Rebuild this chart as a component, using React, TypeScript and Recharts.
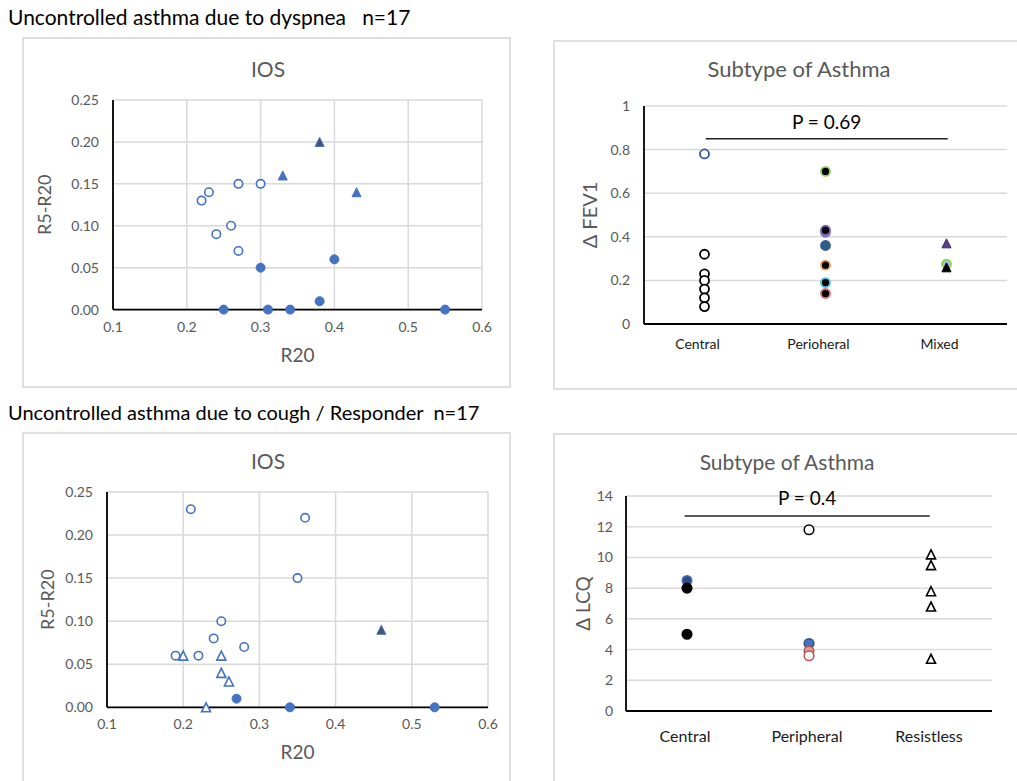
import React from "react";
import {
  ScatterChart,
  Scatter,
  XAxis,
  YAxis,
  CartesianGrid,
  ReferenceLine,
  Cell,
} from "recharts";

const FONT = "Lato, 'Open Sans', sans-serif";
const GRID = "#d9d9d9";
const AXIS_TEXT = "#595959";
const IOS_BLUE = "#4472C4";
const IOS_DARK = "#44546A";

type Pt = { x: number; y: number };

// ---- IOS scatter (shared axes) ----
const iosXTicks = [0.1, 0.2, 0.3, 0.4, 0.5, 0.6];
const iosYTicks = [0, 0.05, 0.1, 0.15, 0.2, 0.25];

// dyspnea group
const dyspneaOpenCircles: Pt[] = [
  { x: 0.22, y: 0.13 },
  { x: 0.23, y: 0.14 },
  { x: 0.27, y: 0.15 },
  { x: 0.3, y: 0.15 },
  { x: 0.26, y: 0.1 },
  { x: 0.24, y: 0.09 },
  { x: 0.27, y: 0.07 },
];
const dyspneaTriangles: Pt[] = [
  { x: 0.33, y: 0.16 },
  { x: 0.43, y: 0.14 },
];
const dyspneaDarkTriangles: Pt[] = [{ x: 0.38, y: 0.2 }];
const dyspneaFilledCircles: Pt[] = [
  { x: 0.3, y: 0.05 },
  { x: 0.4, y: 0.06 },
  { x: 0.38, y: 0.01 },
  { x: 0.25, y: 0 },
  { x: 0.31, y: 0 },
  { x: 0.34, y: 0 },
  { x: 0.55, y: 0 },
];

// cough / responder group
const coughOpenCircles: Pt[] = [
  { x: 0.21, y: 0.23 },
  { x: 0.36, y: 0.22 },
  { x: 0.35, y: 0.15 },
  { x: 0.25, y: 0.1 },
  { x: 0.24, y: 0.08 },
  { x: 0.28, y: 0.07 },
  { x: 0.19, y: 0.06 },
  { x: 0.22, y: 0.06 },
];
const coughOpenTriangles: Pt[] = [
  { x: 0.2, y: 0.06 },
  { x: 0.25, y: 0.06 },
  { x: 0.25, y: 0.04 },
  { x: 0.26, y: 0.03 },
  { x: 0.23, y: 0 },
];
const coughDarkTriangles: Pt[] = [{ x: 0.46, y: 0.09 }];
const coughFilledCircles: Pt[] = [
  { x: 0.27, y: 0.01 },
  { x: 0.34, y: 0 },
  { x: 0.53, y: 0 },
];

// ---- FEV1 by subtype ----
const fev1Categories = ["Central", "Perioheral", "Mixed"];
const fev1YTicks = [0, 0.2, 0.4, 0.6, 0.8, 1];
const fev1Central = [0.78, 0.32, 0.23, 0.2, 0.16, 0.12, 0.08];
const fev1Peripheral = [0.7, 0.42, 0.43, 0.36, 0.27, 0.19, 0.14];
const fev1MixedCircles = [0.275];
const fev1MixedTriangles = [0.37, 0.26];
const fev1PValue = "P = 0.69";
const fev1PLine = { from: 0.51, to: 2.51, y: 0.85 };

// ---- LCQ by subtype ----
const lcqCategories = ["Central", "Peripheral", "Resistless"];
const lcqYTicks = [0, 2, 4, 6, 8, 10, 12, 14];
const lcqCentral = [8.5, 8.0, 5.0];
const lcqPeripheral = [11.8, 4.4, 3.9, 3.6];
const lcqResistless = [10.2, 9.5, 7.8, 6.8, 3.4];
const lcqPValue = "P = 0.4";
const lcqPLine = { from: 0.48, to: 2.49, y: 12.7 };

// point styles
const fev1CentralStyle = [
  { fill: "#fff", stroke: "#2F5597" },
  ...fev1Central.slice(1).map(() => ({ fill: "#fff", stroke: "#000" })),
];
const fev1PeripheralStyle = [
  { fill: "#000", stroke: "#92D050" },
  { fill: "#8E7CC3", stroke: "#8E7CC3" },
  { fill: "#000", stroke: "#7A5FB0" },
  { fill: "#2E5C8A", stroke: "#2E5C8A" },
  { fill: "#000", stroke: "#F4A04E" },
  { fill: "#000", stroke: "#4BC3E0" },
  { fill: "#000", stroke: "#E06666" },
];
const fev1MixedTriangleStyle = [
  { fill: "#5B3F8F", stroke: "#3A2866" },
  { fill: "#000", stroke: "#000" },
];
const lcqCentralStyle = [
  { fill: "#2F4F80", stroke: "#4472C4" },
  { fill: "#000", stroke: "#000" },
  { fill: "#000", stroke: "#000" },
];
const lcqPeripheralStyle = [
  { fill: "#fff", stroke: "#000" },
  { fill: "#4472C4", stroke: "#2F4F80" },
  { fill: "#E39A98", stroke: "#C0504D" },
  { fill: "#fff", stroke: "#C0504D" },
];

const onCategory = (i: number, vals: number[]) => vals.map((v) => ({ x: i + 0.5, y: v }));

function circleShape(r: number, sw: number) {
  return (p: any) => {
    if (p.cx == null || p.cy == null) return <g />;
    return <circle cx={p.cx} cy={p.cy} r={r} fill={p.fill} stroke={p.stroke} strokeWidth={sw} />;
  };
}

function triangleShape(s: number, sw: number) {
  return (p: any) => {
    if (p.cx == null || p.cy == null) return <g />;
    const h = s / 2;
    const pts = `${p.cx},${p.cy - h} ${p.cx - h},${p.cy + h} ${p.cx + h},${p.cy + h}`;
    return <polygon points={pts} fill={p.fill} stroke={p.stroke} strokeWidth={sw} strokeLinejoin="miter" />;
  };
}

const tickStyle = { fontSize: 14, fill: AXIS_TEXT, fontFamily: FONT };
const axisTitleStyle = { fontSize: 18, fill: AXIS_TEXT, fontFamily: FONT, textAnchor: "middle" as const };

function Panel(props: {
  left: number;
  top: number;
  width: number;
  height: number;
  title: string;
  titleX: number;
  titleY: number;
  titleSize: number;
  children: React.ReactNode;
}) {
  return (
    <div
      style={{
        position: "absolute",
        left: props.left,
        top: props.top,
        width: props.width,
        height: props.height,
        border: "2px solid #dedede",
        boxSizing: "border-box",
        background: "#fff",
      }}
    >
      <div
        style={{
          position: "absolute",
          left: props.titleX,
          top: props.titleY,
          transform: "translate(-50%, -50%)",
          fontSize: props.titleSize,
          color: AXIS_TEXT,
          whiteSpace: "nowrap",
          lineHeight: 1,
        }}
      >
        {props.title}
      </div>
      <div style={{ position: "absolute", left: -2, top: -2 }}>{props.children}</div>
    </div>
  );
}

function IosChart({
  openCircles,
  triangles,
  openTriangles,
  darkTriangles,
  filledCircles,
  yAxisWidth,
  marginRight,
  marginTop,
  plotHeight,
  width,
  height,
  yLabelX,
}: {
  openCircles: Pt[];
  triangles: Pt[];
  openTriangles: Pt[];
  darkTriangles: Pt[];
  filledCircles: Pt[];
  yAxisWidth: number;
  marginRight: number;
  marginTop: number;
  plotHeight: number;
  width: number;
  height: number;
  yLabelX: number;
}) {
  const xAxisHeight = 60;
  const marginBottom = height - marginTop - plotHeight - xAxisHeight;
  return (
    <ScatterChart
      width={width}
      height={height}
      margin={{ top: marginTop, right: marginRight, bottom: marginBottom, left: 0 }}
      style={{ fontFamily: FONT }}
    >
      <CartesianGrid stroke={GRID} strokeWidth={1.5} />
      <XAxis
        type="number"
        dataKey="x"
        domain={[0.1, 0.6]}
        ticks={iosXTicks}
        tickFormatter={(v: number) => v.toFixed(1)}
        tick={tickStyle}
        tickLine={false}
        tickMargin={6}
        height={xAxisHeight}
        stroke="#000"
        strokeWidth={1.8}
        label={{ value: "R20", position: "insideBottom", offset: 8, style: { ...axisTitleStyle, fontSize: 19 } }}
      />
      <YAxis
        type="number"
        dataKey="y"
        domain={[0, 0.25]}
        ticks={iosYTicks}
        tickFormatter={(v: number) => v.toFixed(2)}
        tick={tickStyle}
        tickLine={false}
        tickMargin={8}
        width={yAxisWidth}
        stroke="#000"
        strokeWidth={1.8}
        label={{ value: "R5-R20", angle: -90, position: "insideLeft", offset: yLabelX, style: axisTitleStyle }}
      />
      <Scatter data={openCircles} fill="#fff" stroke={IOS_BLUE} shape={circleShape(4.2, 1.6)} isAnimationActive={false} />
      <Scatter data={openTriangles} fill="#fff" stroke={IOS_BLUE} shape={triangleShape(9, 1.6)} isAnimationActive={false} />
      <Scatter data={triangles} fill={IOS_BLUE} stroke={IOS_BLUE} shape={triangleShape(9, 1)} isAnimationActive={false} />
      <Scatter data={darkTriangles} fill={IOS_DARK} stroke={IOS_BLUE} shape={triangleShape(9, 1)} isAnimationActive={false} />
      <Scatter data={filledCircles} fill={IOS_BLUE} stroke={IOS_BLUE} shape={circleShape(4.5, 1)} isAnimationActive={false} />
    </ScatterChart>
  );
}

export default function App() {
  return (
    <div
      style={{
        position: "absolute",
        left: 0,
        top: 0,
        width: 1017,
        height: 781,
        overflow: "hidden",
        background: "#fff",
        fontFamily: FONT,
      }}
    >
      <div style={{ position: "absolute", left: 8, top: 6, fontSize: 21, lineHeight: "22px", color: "#000", whiteSpace: "pre" }}>
        {"Uncontrolled asthma due to dyspnea   n=17"}
      </div>
      <div style={{ position: "absolute", left: 8, top: 401, fontSize: 20, lineHeight: "22px", color: "#000", whiteSpace: "pre" }}>
        {"Uncontrolled asthma due to cough / Responder  n=17"}
      </div>

      {/* top left: IOS, dyspnea */}
      <Panel left={22} top={37} width={489} height={351} title="IOS" titleX={244} titleY={29} titleSize={21}>
        <IosChart
          openCircles={dyspneaOpenCircles}
          triangles={dyspneaTriangles}
          openTriangles={[]}
          darkTriangles={dyspneaDarkTriangles}
          filledCircles={dyspneaFilledCircles}
          width={489}
          height={351}
          yAxisWidth={91}
          marginRight={29}
          marginTop={63}
          plotHeight={209.6}
          yLabelX={23}
        />
      </Panel>

      {/* top right: FEV1 by subtype */}
      <Panel left={553} top={40} width={475} height={350} title="Subtype of Asthma" titleX={244} titleY={27} titleSize={22}>
        <ScatterChart width={475} height={350} margin={{ top: 66, right: 21, bottom: 26, left: 0 }} style={{ fontFamily: FONT }}>
          <CartesianGrid stroke={GRID} strokeWidth={1.5} vertical={false} />
          <XAxis
            type="number"
            dataKey="x"
            domain={[0, 3]}
            ticks={[0.5, 1.5, 2.5]}
            tickFormatter={(v: number) => fev1Categories[Math.floor(v)]}
            tick={{ fontSize: 14, fill: "#1a1a1a", fontFamily: FONT, dx: -7 }}
            tickLine={false}
            tickMargin={9}
            height={40}
            stroke="#000"
            strokeWidth={1.8}
          />
          <YAxis
            type="number"
            dataKey="y"
            domain={[0, 1]}
            ticks={fev1YTicks}
            tick={tickStyle}
            tickLine={false}
            tickMargin={8}
            width={91}
            stroke="#000"
            strokeWidth={1.8}
            label={{ value: "Δ FEV1", angle: -90, position: "insideLeft", offset: 37, style: { ...axisTitleStyle, fontSize: 20 } }}
          />
          <ReferenceLine
            segment={[
              { x: fev1PLine.from, y: fev1PLine.y },
              { x: fev1PLine.to, y: fev1PLine.y },
            ]}
            stroke="#222"
            strokeWidth={1.5}
            label={{ value: fev1PValue, position: "top", offset: 10, style: { fontSize: 19, fill: "#000", fontFamily: FONT } }}
          />
          <Scatter data={onCategory(0, fev1Central)} shape={circleShape(4.5, 1.8)} isAnimationActive={false}>
            {fev1CentralStyle.map((s, i) => (
              <Cell key={i} fill={s.fill} stroke={s.stroke} />
            ))}
          </Scatter>
          <Scatter data={onCategory(1, fev1Peripheral)} shape={circleShape(4.5, 1.8)} isAnimationActive={false}>
            {fev1PeripheralStyle.map((s, i) => (
              <Cell key={i} fill={s.fill} stroke={s.stroke} />
            ))}
          </Scatter>
          <Scatter
            data={onCategory(2, fev1MixedCircles)}
            fill="#9DC3E6"
            stroke="#92D050"
            shape={circleShape(4.5, 1.8)}
            isAnimationActive={false}
          />
          <Scatter data={onCategory(2, fev1MixedTriangles)} shape={triangleShape(9, 1)} isAnimationActive={false}>
            {fev1MixedTriangleStyle.map((s, i) => (
              <Cell key={i} fill={s.fill} stroke={s.stroke} />
            ))}
          </Scatter>
        </ScatterChart>
      </Panel>

      {/* bottom left: IOS, cough / responder */}
      <Panel left={22} top={432} width={489} height={360} title="IOS" titleX={244} titleY={26} titleSize={21}>
        <IosChart
          openCircles={coughOpenCircles}
          triangles={[]}
          openTriangles={coughOpenTriangles}
          darkTriangles={coughDarkTriangles}
          filledCircles={coughFilledCircles}
          width={489}
          height={360}
          yAxisWidth={85}
          marginRight={23}
          marginTop={60}
          plotHeight={215.3}
          yLabelX={26}
        />
      </Panel>

      {/* bottom right: LCQ by subtype */}
      <Panel left={553} top={433} width={475} height={360} title="Subtype of Asthma" titleX={232} titleY={26} titleSize={21}>
        <ScatterChart width={475} height={360} margin={{ top: 63, right: 36, bottom: 32, left: 0 }} style={{ fontFamily: FONT }}>
          <CartesianGrid stroke={GRID} strokeWidth={1.5} vertical={false} />
          <XAxis
            type="number"
            dataKey="x"
            domain={[0, 3]}
            ticks={[0.5, 1.5, 2.5]}
            tickFormatter={(v: number) => lcqCategories[Math.floor(v)]}
            tick={{ fontSize: 16, fill: "#1a1a1a", fontFamily: FONT, dx: -2 }}
            tickLine={false}
            tickMargin={14}
            height={50}
            stroke="#000"
            strokeWidth={1.8}
          />
          <YAxis
            type="number"
            dataKey="y"
            domain={[0, 14]}
            ticks={lcqYTicks}
            tick={tickStyle}
            tickLine={false}
            tickMargin={7}
            width={73}
            stroke="#000"
            strokeWidth={1.8}
            label={{ value: "Δ LCQ", angle: -90, position: "insideLeft", offset: 30, style: { ...axisTitleStyle, fontSize: 19 } }}
          />
          <ReferenceLine
            segment={[
              { x: lcqPLine.from, y: lcqPLine.y },
              { x: lcqPLine.to, y: lcqPLine.y },
            ]}
            stroke="#222"
            strokeWidth={1.5}
            label={{ value: lcqPValue, position: "top", offset: 11, style: { fontSize: 19, fill: "#000", fontFamily: FONT } }}
          />
          <Scatter data={onCategory(0, lcqCentral)} shape={circleShape(4.8, 1.5)} isAnimationActive={false}>
            {lcqCentralStyle.map((s, i) => (
              <Cell key={i} fill={s.fill} stroke={s.stroke} />
            ))}
          </Scatter>
          <Scatter data={onCategory(1, lcqPeripheral)} shape={circleShape(4.8, 1.5)} isAnimationActive={false}>
            {lcqPeripheralStyle.map((s, i) => (
              <Cell key={i} fill={s.fill} stroke={s.stroke} />
            ))}
          </Scatter>
          <Scatter
            data={onCategory(2, lcqResistless)}
            fill="#fff"
            stroke="#000"
            shape={triangleShape(9, 1.6)}
            isAnimationActive={false}
          />
        </ScatterChart>
      </Panel>
    </div>
  );
}
